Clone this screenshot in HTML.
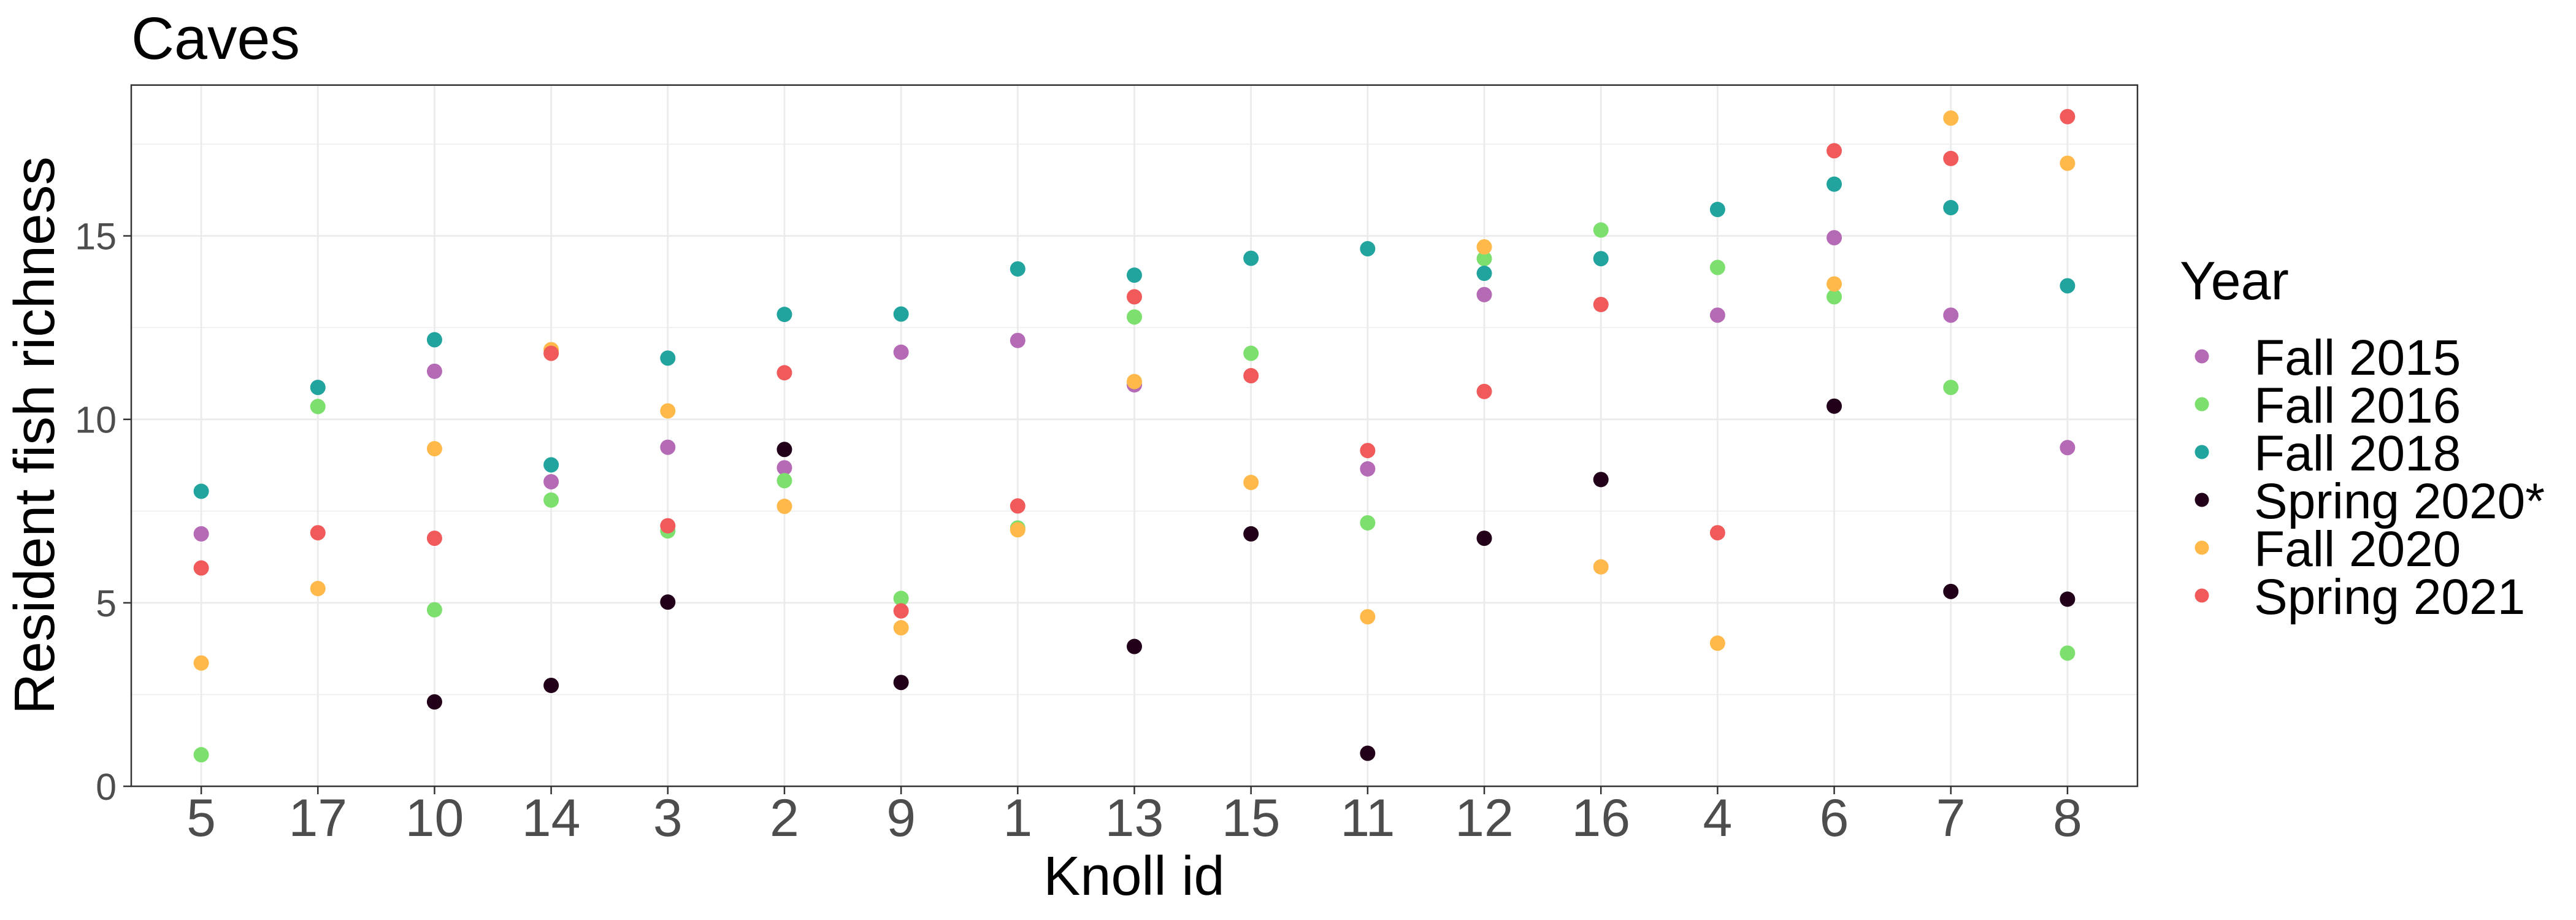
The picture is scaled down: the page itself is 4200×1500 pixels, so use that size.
<!DOCTYPE html>
<html><head><meta charset="utf-8"><style>
html,body{margin:0;padding:0;background:#fff;}
svg{display:block;font-family:"Liberation Sans",Arial,sans-serif;}
</style></head><body>
<svg id="chart" width="4200" height="1500" viewBox="0 0 4200 1500">
<text x="214" y="96" font-size="97" fill="#000">Caves</text>
<g id="grid"></g>
<g id="points"></g>
<rect x="214" y="138.7" width="3271" height="1143.3" fill="none" stroke="#333" stroke-width="2.5"/>
<g id="axes"></g>
<text transform="translate(88,710) rotate(-90)" text-anchor="middle" font-size="93" fill="#000">Resident fish richness</text>
<text x="1849" y="1459" text-anchor="middle" font-size="90" fill="#000">Knoll id</text>
<g id="legend">
<text x="3554" y="488" font-size="88" fill="#000">Year</text>
</g>
</svg>
<script>
const categories = ["5","17","10","14","3","2","9","1","13","15","11","12","16","4","6","7","8"];
const seriesNames = ["Fall 2015","Fall 2016","Fall 2018","Spring 2020*","Fall 2020","Spring 2021"];
const seriesColors = ["#B46AB4","#7DE06E","#21A39E","#22001A","#FFB84A","#F05A5A"];
const fall2015 = [6.88,null,11.31,8.3,9.24,8.68,11.83,12.15,10.94,null,8.65,13.4,null,12.84,14.95,12.84,9.23];
const fall2016 = [0.86,10.35,4.81,7.8,6.96,8.33,5.12,7.04,12.79,11.8,7.18,14.38,15.16,14.14,13.34,10.87,3.63];
const fall2018 = [8.04,10.87,12.17,8.76,11.67,12.86,12.87,14.1,13.93,14.39,14.65,13.98,14.38,15.72,16.41,15.77,13.64];
const spring2020 = [null,null,2.3,2.75,5.02,9.18,2.83,null,3.81,6.88,0.9,6.76,8.36,null,10.36,5.31,5.1];
const fall2020 = [3.36,5.39,9.2,11.9,10.23,7.63,4.32,6.99,11.03,8.28,4.62,14.7,5.98,3.9,13.69,18.21,16.98];
const spring2021 = [5.95,6.91,6.76,11.8,7.1,11.27,4.78,7.64,13.34,11.19,9.15,10.76,13.13,6.91,17.32,17.11,18.25];
const yTicks = [0,5,10,15];
const yMinor = [2.5,7.5,12.5,17.5];
const series = [fall2015,fall2016,fall2018,spring2020,fall2020,spring2021];

const NS="http://www.w3.org/2000/svg";
const PL=214,PR=3485,PT=138.7,PB=1282;
const unit=(PB-384.6)/15;
function xs(i){const step=(PR-PL)/(categories.length-1+1.2);return PL+step*(0.6+i);}
function ys(v){return PB-v*unit;}
function mk(tag,attrs,parent){const e=document.createElementNS(NS,tag);for(const k in attrs)e.setAttribute(k,attrs[k]);parent.appendChild(e);return e;}
const grid=document.getElementById('grid'),pts=document.getElementById('points'),axes=document.getElementById('axes'),leg=document.getElementById('legend');
yMinor.forEach(v=>{const l=mk('line',{x1:PL,x2:PR,y1:ys(v),y2:ys(v),stroke:'#ebebeb','stroke-width':1.4},grid);

});
yTicks.forEach(v=>{const l=mk('line',{x1:PL,x2:PR,y1:ys(v),y2:ys(v),stroke:'#ebebeb','stroke-width':2.8},grid);


const t=mk('line',{x1:201,x2:PL,y1:ys(v),y2:ys(v),stroke:'#333','stroke-width':2.5},axes);


const tx=mk('text',{x:190,y:ys(v)+22,'text-anchor':'end','font-size':61,fill:'#4d4d4d'},axes);tx.textContent=v;

});
categories.forEach((c,i)=>{const x=xs(i);
const l=mk('line',{x1:x,x2:x,y1:PT,y2:PB,stroke:'#ebebeb','stroke-width':2.8},grid);


const t=mk('line',{x1:x,x2:x,y1:PB,y2:PB+13,stroke:'#333','stroke-width':2.5},axes);


const tx=mk('text',{x:x,y:1363,'text-anchor':'middle','font-size':86,fill:'#4d4d4d'},axes);tx.textContent=c;

});
series.forEach((s,si)=>{s.forEach((v,i)=>{if(v==null)return;
const c=mk('circle',{cx:xs(i),cy:ys(v),r:12.5,fill:seriesColors[si]},pts);

});});
seriesNames.forEach((n,i)=>{const y=581+i*78;
const c=mk('circle',{cx:3590,cy:y,r:11.5,fill:seriesColors[i]},leg);


const t=mk('text',{x:3675,y:y+30,'font-size':82,fill:'#000'},leg);t.textContent=n;

});
</script>
</body></html>
